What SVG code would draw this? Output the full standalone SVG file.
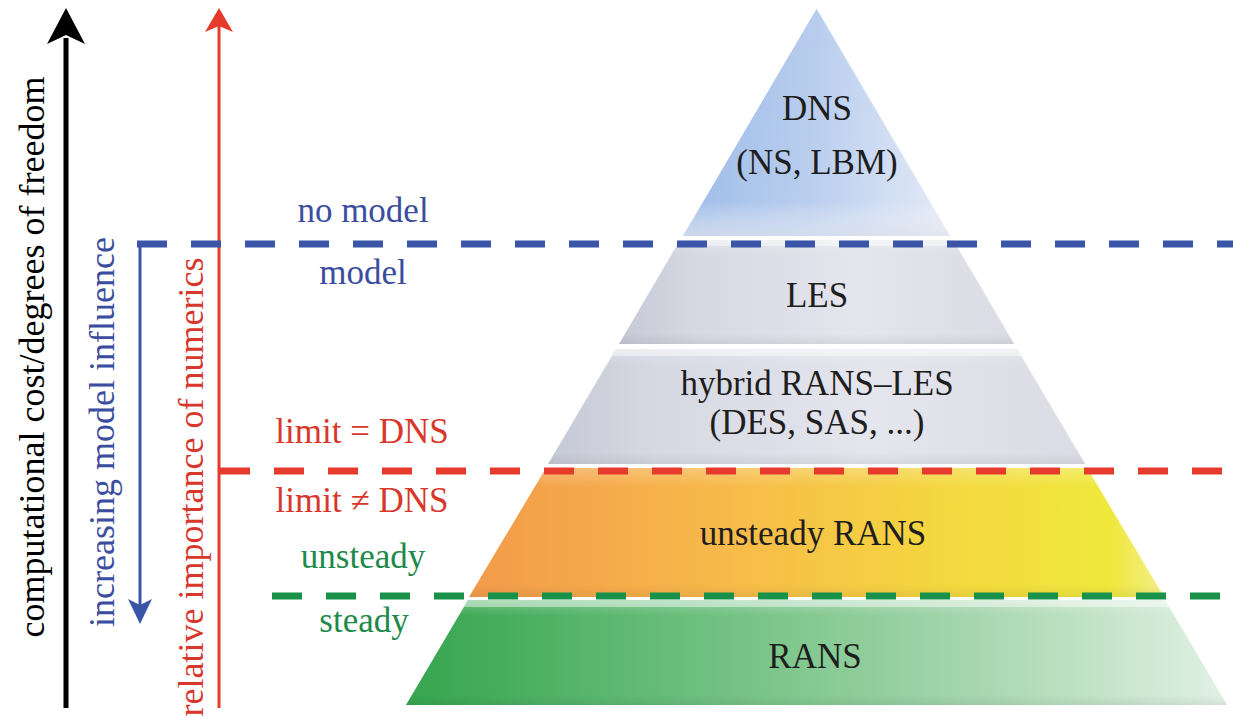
<svg xmlns="http://www.w3.org/2000/svg" width="1233" height="719" viewBox="0 0 1233 719">
<defs>
<style>
text{font-family:'Liberation Serif','Times New Roman',Times,Tinos,'Noto Serif','DejaVu Serif','FreeSerif',serif}
.t{font-size:35px;text-anchor:middle}
.pt{fill:#1e1e1e}
.blue{fill:#3a4d9e}
.red{fill:#d8372c}
.green{fill:#1d8a4a}
.lip{fill:#ffffff;opacity:0.45}
.edge{fill:none;stroke:#ffffff;stroke-width:2;opacity:0.7}
.dash{fill:none;stroke-width:7;stroke-dasharray:30 24}
</style>
<linearGradient id="gDNS" x1="0" y1="0" x2="1" y2="0">
<stop offset="0" stop-color="#9ab9e7"/><stop offset="0.5" stop-color="#b8cdee"/><stop offset="1" stop-color="#e4eaf6"/>
</linearGradient>
<linearGradient id="gDNSv" x1="0" y1="0" x2="0" y2="1">
<stop offset="0" stop-color="#ffffff" stop-opacity="0"/><stop offset="0.85" stop-color="#ffffff" stop-opacity="0.05"/><stop offset="1" stop-color="#dfe3ec" stop-opacity="0.7"/>
</linearGradient>
<linearGradient id="gGray" x1="0" y1="0" x2="1" y2="0">
<stop offset="0" stop-color="#c6c9d6"/><stop offset="0.2" stop-color="#d6d8e3"/><stop offset="0.6" stop-color="#e4e5ed"/><stop offset="1" stop-color="#dadbe4"/>
</linearGradient>
<linearGradient id="gOrange" x1="0" y1="0" x2="1" y2="0">
<stop offset="0" stop-color="#f39a4b"/><stop offset="0.35" stop-color="#f7b84a"/><stop offset="0.7" stop-color="#f4d93f"/><stop offset="0.92" stop-color="#efe83c"/><stop offset="1" stop-color="#f3ef8a"/>
</linearGradient>
<linearGradient id="gGreen" x1="0" y1="0" x2="1" y2="0">
<stop offset="0" stop-color="#35a54f"/><stop offset="0.35" stop-color="#6cbf7d"/><stop offset="0.7" stop-color="#a8d7b0"/><stop offset="1" stop-color="#e2f1e4"/>
</linearGradient>
<linearGradient id="gShade" x1="0" y1="0" x2="0" y2="1">
<stop offset="0" stop-color="#ffffff" stop-opacity="0.25"/><stop offset="0.15" stop-color="#ffffff" stop-opacity="0"/><stop offset="0.9" stop-color="#000000" stop-opacity="0"/><stop offset="1" stop-color="#000000" stop-opacity="0.06"/>
</linearGradient>
</defs>
<rect width="1233" height="719" fill="#ffffff"/>

<g id="node-dns">
<polygon points="817,8 951,236 683,236" fill="url(#gDNS)"/>
<polygon points="817,8 951,236 683,236" fill="url(#gDNSv)"/>
<polyline class="edge" points="817,8 951,236"/>
<text class="t pt" x="817" y="120">DNS</text>
<text class="t pt" x="817" y="174">(NS, LBM)</text>
</g>

<g id="node-les">
<polygon points="680,240 954,240 1015,344 619,344" fill="url(#gGray)"/>
<polygon points="680,240 954,240 1015,344 619,344" fill="url(#gShade)"/>
<polygon class="lip" points="680,240 954,240 957,246 677,246"/>
<polyline class="edge" points="954,240 1015,344"/>
<text class="t pt" x="817" y="307">LES</text>
</g>

<g id="node-hybrid">
<polygon points="616,349 1018,349 1086,464 548,464" fill="url(#gGray)"/>
<polygon points="616,349 1018,349 1086,464 548,464" fill="url(#gShade)"/>
<polygon class="lip" points="616,349 1018,349 1022,356 612,356"/>
<polyline class="edge" points="1018,349 1086,464"/>
<text class="t pt" x="817" y="395">hybrid RANS–LES</text>
<text class="t pt" x="817" y="434">(DES, SAS, ...)</text>
</g>

<g id="node-unsteady-rans">
<polygon points="546,468 1088,468 1165,597 469,597" fill="url(#gOrange)"/>
<polygon points="546,468 1088,468 1165,597 469,597" fill="url(#gShade)"/>
<polyline class="edge" points="1088,468 1165,597"/>
<text class="t pt" x="813" y="545">unsteady RANS</text>
</g>

<g id="node-rans">
<polygon points="468,600 1166,600 1228,705 406,705" fill="url(#gGreen)"/>
<polygon points="468,600 1166,600 1228,705 406,705" fill="url(#gShade)"/>
<polygon class="lip" points="468,600 1166,600 1170,607 464,607"/>
<polyline class="edge" points="1166,600 1228,705"/>
<text class="t pt" x="815" y="668">RANS</text>
</g>

<g id="connectors">
<line x1="66" y1="38" x2="66" y2="708" stroke="#000000" stroke-width="5"/>
<path d="M66,8 L85,44 L66,35 L47,44 Z" fill="#000000"/>
<line x1="219" y1="26" x2="219" y2="708" stroke="#e63a2c" stroke-width="3"/>
<path d="M219,8 L233,32 L219,26 L205,32 Z" fill="#e63a2c"/>
<line x1="140" y1="244" x2="140" y2="610" stroke="#3a55a8" stroke-width="3"/>
<path d="M140,624 L152,599 L140,605 L128,599 Z" fill="#3a55a8"/>
<line class="dash" x1="137" y1="244" x2="1233" y2="244" stroke="#3a55a8"/>
<line class="dash" x1="220" y1="471" x2="1233" y2="471" stroke="#e63a2c"/>
<line class="dash" x1="272" y1="596" x2="1233" y2="596" stroke="#18924a"/>
</g>

<g id="axis-labels">
<text class="t" style="font-size:36px" fill="#000000" transform="translate(44,357) rotate(-90)">computational cost/degrees of freedom</text>
<text class="t blue" style="font-size:36px" transform="translate(114,432) rotate(-90)">increasing model influence</text>
<text class="t red" style="font-size:36px" transform="translate(203,487) rotate(-90)">relative importance of numerics</text>
</g>

<g id="region-labels">
<text class="t blue" x="363" y="222">no model</text>
<text class="t blue" x="363" y="284">model</text>
<text class="t red" x="362" y="443">limit = DNS</text>
<text class="t red" x="362" y="512">limit ≠ DNS</text>
<text class="t green" x="363" y="568">unsteady</text>
<text class="t green" x="364" y="632">steady</text>
</g>
</svg>
